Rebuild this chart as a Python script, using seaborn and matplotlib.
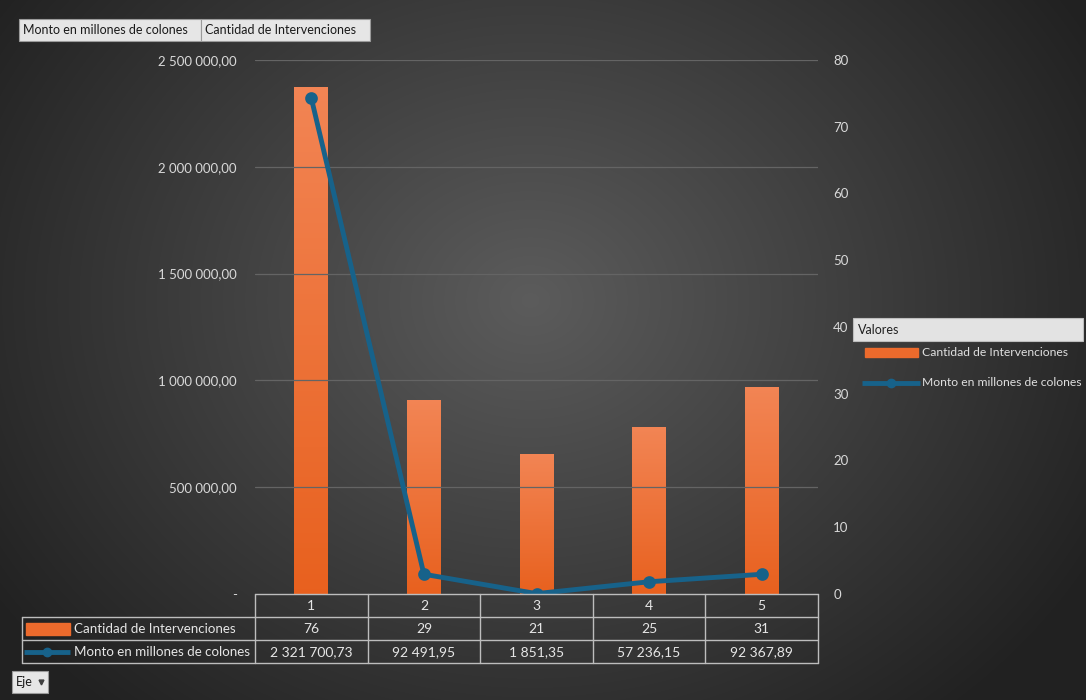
import numpy as np
import pandas as pd
import matplotlib
matplotlib.use("Agg")
import matplotlib.pyplot as plt
from matplotlib.patches import Rectangle
import seaborn as sns

# ---------------- data ----------------
categorias = ["1", "2", "3", "4", "5"]
cantidad = [76, 29, 21, 25, 31]
monto = [2321700.73, 92491.95, 1851.35, 57236.15, 92367.89]
left_ticks = [0, 500000, 1000000, 1500000, 2000000, 2500000]
right_ticks = [0, 10, 20, 30, 40, 50, 60, 70, 80]
serie_barras = "Cantidad de Intervenciones"
serie_linea = "Monto en millones de colones"

def fmt_es(v, dec=2):
    s = f"{v:,.{dec}f}"
    return s.replace(",", " ").replace(".", ",")

sns.set_theme(style="dark")
FONT = ["Lato", "DejaVu Sans"]
plt.rcParams["font.family"] = FONT

W, H = 1086, 700
fig = plt.figure(figsize=(W / 100, H / 100), dpi=100)

# background radial gradient
bg = fig.add_axes([0, 0, 1, 1], zorder=-10)
yy, xx = np.mgrid[0:H, 0:W]
r = np.sqrt(((xx - 530) / 620.0) ** 2 + ((yy - 300) / 520.0) ** 2)
val = np.clip(0.36 - 0.22 * r, 0.13, 0.36)
bg.imshow(np.dstack([val, val, val]), aspect="auto", extent=[0, W, H, 0])
bg.set_axis_off()

def px(x0, y0, x1, y1):
    return [x0 / W, 1 - y1 / H, (x1 - x0) / W, (y1 - y0) / H]

PL, PR, PT, PB = 255, 818, 60, 594
ax = fig.add_axes(px(PL, PT, PR, PB))
ax.set_facecolor("none")

df = pd.DataFrame({"cat": categorias, "cant": cantidad, "monto": monto})

BAR = "#ec6a2c"
LINE = "#17628a"

# bars (secondary scale, right side)
sns.barplot(data=df, x="cat", y="cant", ax=ax, color=BAR, width=0.3,
            saturation=1, linewidth=0, edgecolor="none", zorder=3)
for p in ax.patches:
    x0, y0 = p.get_x(), p.get_y()
    w, h = p.get_width(), p.get_height()
    grad = np.linspace(0, 1, 100).reshape(-1, 1)
    c_top = np.array([0.95, 0.52, 0.33])
    c_bot = np.array([0.91, 0.38, 0.12])
    img = c_bot + (c_top - c_bot) * grad
    im = ax.imshow(img.reshape(100, 1, 3), extent=[x0, x0 + w, y0, y0 + h],
                   origin="lower", aspect="auto", zorder=3)
    im.set_clip_path(p)
ax.set_xlim(-0.5, 4.5)
ax.set_ylim(0, 80)
ax.set_xticks([])
ax.set_xlabel("")
ax.set_ylabel("")
for s in ax.spines.values():
    s.set_visible(False)
ax.grid(False)

# line (primary scale, left side)
ax2 = ax.twinx()
ax2.set_facecolor("none")
sns.pointplot(data=df, x="cat", y="monto", ax=ax2, color=LINE,
              markers="o", markersize=6.5, linewidth=3.5, zorder=5)
ax2.set_xlim(-0.5, 4.5)
ax2.set_ylim(0, 2500000)
ax2.set_xticks([])
ax2.set_xlabel("")
ax2.set_ylabel("")
for s in ax2.spines.values():
    s.set_visible(False)
ax2.grid(False)
for t in left_ticks[1:]:
    ax2.axhline(t, color="#646464", lw=0.9, zorder=0)

# tick placement (after twinx)
ax.yaxis.tick_right()
ax.yaxis.set_label_position("right")
ax.set_yticks(right_ticks)
ax.set_yticklabels([str(t) for t in right_ticks])
ax.tick_params(axis="y", which="both", left=False, labelleft=False,
               right=False, labelright=True, length=0, pad=11,
               labelsize=9.5, labelcolor="#d9d9d9")
ax2.yaxis.tick_left()
ax2.yaxis.set_label_position("left")
ax2.set_yticks(left_ticks)
ax2.set_yticklabels(["-"] + [fmt_es(t) for t in left_ticks[1:]])
ax2.tick_params(axis="y", which="both", right=False, labelright=False,
                left=False, labelleft=True, length=0, pad=13,
                labelsize=9.5, labelcolor="#d9d9d9")

# ---------------- data table ----------------
ov = fig.add_axes([0, 0, 1, 1], zorder=20)
ov.set_xlim(0, W)
ov.set_ylim(H, 0)
ov.set_axis_off()
ov.patch.set_alpha(0)
lc = "#bdbdbd"
TL = 22
colw = (PR - PL) / 5
rows = [594, 617, 640, 663]
TFS = 10
LBFS = 9.6
ov.plot([PL, PR], [594, 594], color=lc, lw=1)
for yv in rows[1:]:
    ov.plot([TL, PR], [yv, yv], color=lc, lw=1)
ov.plot([TL, TL], [617, 663], color=lc, lw=1)
for k in range(6):
    xv = PL + k * colw
    ov.plot([xv, xv], [594, 663], color=lc, lw=1)
for k, c in enumerate(categorias):
    xc = PL + (k + 0.5) * colw
    ov.text(xc, 606, c, ha="center", va="center", color="#e6e6e6", fontsize=TFS)
    ov.text(xc, 629, str(cantidad[k]), ha="center", va="center",
            color="#e6e6e6", fontsize=TFS)
    ov.text(xc, 652, fmt_es(monto[k]), ha="center", va="center",
            color="#e6e6e6", fontsize=TFS)
ov.add_patch(Rectangle((26, 623), 44, 12, color=BAR))
ov.text(74, 629, serie_barras, ha="left", va="center", color="#e6e6e6",
        fontsize=LBFS)
ov.plot([24, 70], [652, 652], color=LINE, lw=3.5, solid_capstyle="butt")
ov.plot([47], [652], "o", color=LINE, ms=6)
ov.text(74, 652, serie_linea, ha="left", va="center", color="#e6e6e6",
        fontsize=LBFS)

# ---------------- right legend ----------------
LFS = 8.7
ov.add_patch(Rectangle((853, 318), 230, 23, facecolor="#e3e3e3",
                       edgecolor="#bdbdbd", lw=0.8))
ov.text(858, 330, "Valores", ha="left", va="center", color="#202020",
        fontsize=9)
ov.add_patch(Rectangle((865, 348), 53, 9, color=BAR))
ov.text(922, 353, serie_barras, ha="left", va="center", color="#e0e0e0",
        fontsize=LFS)
ov.plot([862, 920], [383, 383], color=LINE, lw=3.5, solid_capstyle="butt")
ov.plot([891], [383], "o", color=LINE, ms=6)
ov.text(922, 383, serie_linea, ha="left", va="center", color="#e0e0e0",
        fontsize=LFS)

# ---------------- field buttons ----------------
def button(x0, y0, x1, y1, text):
    ov.add_patch(Rectangle((x0, y0), x1 - x0, y1 - y0, facecolor="#e6e6e6",
                           edgecolor="#9a9a9a", lw=0.8))
    ov.text(x0 + 4, (y0 + y1) / 2 + 0.5, text, ha="left", va="center",
            color="#1a1a1a", fontsize=9)

button(19, 19, 201, 41, serie_linea)
button(201, 19, 370, 41, serie_barras)
button(12, 671, 48, 693, "Eje")
ov.plot([41], [682], marker="v", color="#404040", ms=3.5)

fig.savefig("out.png", dpi=100)
